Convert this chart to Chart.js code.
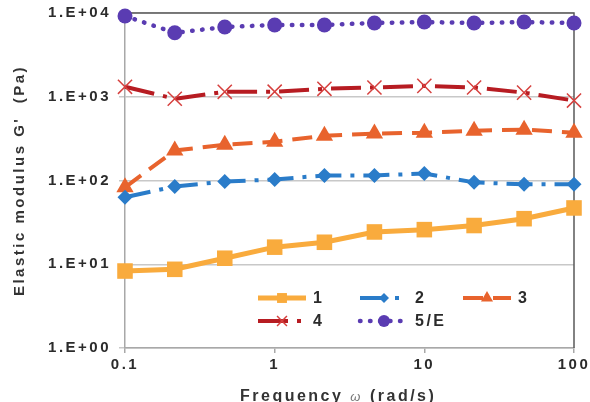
<!DOCTYPE html>
<html><head><meta charset="utf-8">
<script src="https://cdn.jsdelivr.net/npm/chart.js@4"></script>
<style>html,body{margin:0;padding:0;background:#fff;}</style>
</head><body>
<canvas id="c" width="590" height="402"></canvas>
<script>
const FREQUENCY = [0.1, 0.215, 0.464, 1, 2.15, 4.64, 10, 21.5, 46.4, 100];
const SERIES_1 = [8.3, 8.7, 11.8, 16, 18.3, 24.3, 25.9, 29, 35, 47];
const SERIES_2 = [63, 85, 97, 103, 115, 115, 121, 95, 90, 90];
const SERIES_3 = [83, 228, 268, 290, 343, 363, 372, 394, 405, 372];
const SERIES_4 = [1315, 946, 1145, 1150, 1245, 1290, 1350, 1290, 1120, 900];
const SERIES_5 = [9200, 5800, 6800, 7200, 7200, 7600, 7800, 7600, 7800, 7600];
const SERIES_NAMES = ['1', '2', '3', '4', '5/E'];
const X_TICKS = [0.1, 1, 10, 100];
const X_TICK_LABELS = ['0.1', '1', '10', '100'];
const Y_TICKS = [1, 10, 100, 1000, 10000];
const Y_TICK_LABELS = ['1.E+00', '1.E+01', '1.E+02', '1.E+03', '1.E+04'];
const X_TITLE = ['Frequency ', '\u03c9', ' (rad/s)'];
const Y_TITLE = "Elastic modulus G'  (Pa)";

const FONT = '"Liberation Sans", Arial, sans-serif';
const SPACING = '2.5px';

function pts(vals) { return FREQUENCY.map((x, i) => ({ x: x, y: vals[i] })); }

const STYLES = [
  { color: '#F9AB3D', width: 5, dash: [], cap: 'butt', point: 'rect', r: 11, pfill: '#F9AB3D', pstroke: '#F9AB3D', pbw: 0, lr: 7 },
  { color: '#2A7CC9', width: 4, dash: [26, 9, 4, 9], cap: 'butt', point: 'rectRot', r: 7.5, pfill: '#2A7CC9', pstroke: '#2A7CC9', pbw: 0, lr: 5 },
  { color: '#E8632D', width: 4, dash: [20, 10], cap: 'butt', point: 'triangle', r: 10, pfill: '#E8632D', pstroke: '#E8632D', pbw: 0, lr: 7 },
  { color: '#B71C22', width: 4, dash: [30, 9, 4, 9], cap: 'butt', point: 'crossRot', r: 10, pfill: '#D6403E', pstroke: '#D6403E', pbw: 1.5, lr: 7 },
  { color: '#5A3CB2', width: 4.5, dash: [0.5, 9.5], cap: 'round', point: 'circle', r: 7.5, pfill: '#5A3CB2', pstroke: '#5A3CB2', pbw: 0, lr: 6 }
];
const SERIES = [SERIES_1, SERIES_2, SERIES_3, SERIES_4, SERIES_5];
const LEGEND_LAYOUT = [
  { x: 258, y: 298 }, { x: 360, y: 298 }, { x: 463, y: 298 },
  { x: 258, y: 321 }, { x: 360, y: 321 }
];

const datasets = SERIES.map((vals, i) => {
  const s = STYLES[i];
  return {
    label: SERIES_NAMES[i],
    data: pts(vals),
    borderColor: s.color,
    backgroundColor: s.color,
    borderWidth: s.width,
    borderDash: s.dash,
    borderCapStyle: s.cap,
    pointStyle: s.point,
    pointRadius: s.r,
    pointHoverRadius: s.r,
    pointBackgroundColor: s.pfill,
    pointBorderColor: s.pstroke,
    pointBorderWidth: s.pbw,
    tension: 0,
    clip: false,
    fill: false
  };
});

function drawMarker(ctx, style, x, y, r, fill, stroke, bw) {
  ctx.save();
  ctx.fillStyle = fill; ctx.strokeStyle = stroke; ctx.lineWidth = bw || 1.5;
  ctx.setLineDash([]);
  ctx.beginPath();
  if (style === 'rect') {
    const s = r * Math.SQRT1_2; ctx.rect(x - s, y - s, 2 * s, 2 * s); ctx.fill();
  } else if (style === 'rectRot') {
    ctx.moveTo(x, y - r); ctx.lineTo(x + r, y); ctx.lineTo(x, y + r); ctx.lineTo(x - r, y); ctx.closePath(); ctx.fill();
  } else if (style === 'triangle') {
    const a = 2 * Math.PI / 3;
    ctx.moveTo(x, y - r);
    ctx.lineTo(x + Math.sin(a) * r, y - Math.cos(a) * r);
    ctx.lineTo(x - Math.sin(a) * r, y - Math.cos(a) * r);
    ctx.closePath(); ctx.fill();
  } else if (style === 'crossRot') {
    const s = r * Math.SQRT1_2;
    ctx.moveTo(x - s, y - s); ctx.lineTo(x + s, y + s);
    ctx.moveTo(x - s, y + s); ctx.lineTo(x + s, y - s); ctx.stroke();
  } else {
    ctx.arc(x, y, r, 0, Math.PI * 2); ctx.fill();
  }
  ctx.restore();
}

const spacingPlugin = {
  id: 'spacing',
  beforeDraw(chart) { try { chart.ctx.letterSpacing = SPACING; } catch (e) {} }
};

const framePlugin = {
  id: 'frame',
  beforeDatasetsDraw(chart) {
    const { ctx, chartArea: a } = chart;
    ctx.save();
    ctx.strokeStyle = '#5a5a5a'; ctx.lineWidth = 1.5;
    ctx.beginPath();
    ctx.moveTo(a.left, a.top); ctx.lineTo(a.right, a.top); ctx.lineTo(a.right, a.bottom);
    ctx.stroke();
    ctx.restore();
  }
};

const legendPlugin = {
  id: 'customLegend',
  afterDatasetsDraw(chart) {
    const ctx = chart.ctx;
    chart.data.datasets.forEach((ds, i) => {
      const p = LEGEND_LAYOUT[i], s = STYLES[i];
      ctx.save();
      ctx.strokeStyle = s.color; ctx.lineWidth = s.width;
      ctx.setLineDash(s.dash); ctx.lineCap = s.cap;
      ctx.beginPath(); ctx.moveTo(p.x, p.y); ctx.lineTo(p.x + 48, p.y); ctx.stroke();
      drawMarker(ctx, s.point, p.x + 24, p.y, s.lr, s.pfill, s.pstroke, s.pbw);
      try { ctx.letterSpacing = SPACING; } catch (e) {}
      ctx.fillStyle = '#2b2b2b';
      ctx.font = 'bold 16px ' + FONT;
      ctx.textBaseline = 'middle'; ctx.textAlign = 'left';
      ctx.fillText(ds.label, p.x + 55, p.y + 1);
      ctx.restore();
    });
  },
  afterDraw(chart) {
    const ctx = chart.ctx;
    ctx.save();
    try { ctx.letterSpacing = SPACING; } catch (e) {}
    ctx.textBaseline = 'alphabetic'; ctx.textAlign = 'left';
    ctx.fillStyle = '#333';
    let x = 240; const y = 401;
    const fonts = ['bold 16px ' + FONT, 'italic 13px ' + FONT, 'bold 16px ' + FONT];
    const colors = ['#333', '#777', '#333'];
    X_TITLE.forEach((t, i) => {
      ctx.font = fonts[i]; ctx.fillStyle = colors[i];
      ctx.fillText(t, x, y);
      x += ctx.measureText(t).width;
    });
    ctx.restore();
  }
};

new Chart(document.getElementById('c'), {
  type: 'line',
  data: { datasets: datasets },
  plugins: [spacingPlugin, framePlugin, legendPlugin],
  options: {
    responsive: false,
    devicePixelRatio: 1,
    animation: false,
    layout: { padding: { top: 13, right: 16, left: 0, bottom: 0 } },
    plugins: { legend: { display: false }, tooltip: { enabled: false } },
    scales: {
      x: {
        type: 'logarithmic', min: 0.1, max: 100,
        afterBuildTicks: s => { s.ticks = X_TICKS.map(v => ({ value: v })); },
        afterFit: s => { s.height = 54; s.paddingLeft = 0; s.paddingRight = 0; },
        ticks: {
          callback: (v, i) => X_TICK_LABELS[i],
          font: { family: FONT, size: 15, weight: 'bold' }, color: '#2b2b2b',
          padding: 3, maxRotation: 0, autoSkip: false
        },
        grid: { drawOnChartArea: false, tickLength: 5, color: '#A8A8A8', lineWidth: 1.5 },
        border: { color: '#A8A8A8', width: 1.5 },
        title: { display: false }
      },
      y: {
        type: 'logarithmic', min: 1, max: 10000,
        afterBuildTicks: s => { s.ticks = Y_TICKS.map(v => ({ value: v })); },
        afterFit: s => { s.width = 125; s.paddingTop = 0; s.paddingBottom = 0; },
        ticks: {
          callback: (v, i) => Y_TICK_LABELS[i],
          font: { family: FONT, size: 15, weight: 'bold' }, color: '#2b2b2b',
          padding: 8, autoSkip: false
        },
        grid: { color: '#C8C8C8', lineWidth: 1.5, tickLength: 6 },
        border: { color: '#A8A8A8', width: 1.5 },
        title: {
          display: true, text: Y_TITLE, color: '#333',
          font: { family: FONT, size: 15, weight: 'bold' },
          padding: { top: 11, bottom: 0 }
        }
      }
    }
  }
});
</script>
</body></html>
